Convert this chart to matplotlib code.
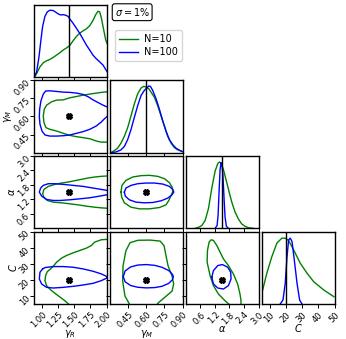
import matplotlib
matplotlib.use("Agg")
import matplotlib.pyplot as plt

# ---------------- data ----------------
param_labels = [r"$\gamma_R$", r"$\gamma_M$", r"$\alpha$", r"$C$"]
truths = [1.42, 0.60, 1.50, 20.0]
limits = [(0.88, 2.0), (0.3, 0.9), (0.0, 3.0), (5.0, 50.0)]
tick_values = [[1.00, 1.25, 1.50, 1.75, 2.00], [0.45, 0.60, 0.75, 0.90],
               [0.6, 1.2, 1.8, 2.4, 3.0], [10, 20, 30, 40, 50]]
tick_labels = [["1.00", "1.25", "1.50", "1.75", "2.00"], ["0.45", "0.60", "0.75", "0.90"],
               ["0.6", "1.2", "1.8", "2.4", "3.0"], ["10", "20", "30", "40", "50"]]
series_names = ["N=10", "N=100"]
series_colors = ["green", "blue"]
sigma_label = r"$\sigma = 1\%$"

# 1D marginals (normalised heights)
gR_x_n10 = [0.890, 0.921, 0.972, 1.023, 1.074, 1.125, 1.177, 1.228, 1.279, 1.330, 1.381, 1.432, 1.483,
            1.535, 1.586, 1.637, 1.688, 1.739, 1.790, 1.831, 1.867, 1.893, 1.918, 1.954, 1.985, 2.005]
gR_h_n10 = [0.0, 0.047, 0.140, 0.195, 0.223, 0.242, 0.270, 0.302, 0.335, 0.372, 0.400, 0.435, 0.500,
            0.560, 0.605, 0.637, 0.665, 0.707, 0.781, 0.860, 0.907, 0.898, 0.814, 0.651, 0.512, 0.465]
gR_x_n100 = [0.890, 0.921, 0.957, 0.987, 1.013, 1.049, 1.085, 1.125, 1.177, 1.217, 1.253, 1.289, 1.330,
             1.371, 1.407, 1.432, 1.483, 1.535, 1.586, 1.637, 1.688, 1.739, 1.790, 1.841, 1.892, 1.944, 2.005]
gR_h_n100 = [0.009, 0.070, 0.279, 0.512, 0.698, 0.837, 0.898, 0.921, 0.916, 0.893, 0.870, 0.856, 0.860,
             0.851, 0.835, 0.800, 0.740, 0.670, 0.600, 0.520, 0.440, 0.370, 0.300, 0.250, 0.209, 0.163, 0.074]

gM_x_n10 = [0.308, 0.336, 0.363, 0.391, 0.419, 0.446, 0.474, 0.501, 0.529, 0.557, 0.579, 0.598, 0.620,
            0.639, 0.667, 0.694, 0.722, 0.750, 0.777, 0.805, 0.832, 0.860, 0.907]
gM_h_n10 = [0.0, 0.028, 0.061, 0.131, 0.225, 0.343, 0.507, 0.671, 0.812, 0.892, 0.915, 0.906, 0.883,
            0.836, 0.765, 0.648, 0.507, 0.366, 0.225, 0.131, 0.070, 0.038, 0.009]
gM_x_n100 = [0.308, 0.350, 0.391, 0.419, 0.446, 0.474, 0.501, 0.529, 0.557, 0.584, 0.604, 0.620, 0.634,
             0.653, 0.681, 0.708, 0.736, 0.763, 0.791, 0.819, 0.846, 0.879, 0.907]
gM_h_n100 = [0.0, 0.009, 0.038, 0.085, 0.178, 0.319, 0.484, 0.648, 0.789, 0.859, 0.892, 0.920, 0.915,
             0.859, 0.742, 0.601, 0.437, 0.296, 0.178, 0.108, 0.061, 0.028, 0.009]

al_x_n10 = [0.384, 0.521, 0.658, 0.795, 0.932, 1.069, 1.206, 1.316, 1.384, 1.453, 1.549, 1.658, 1.781,
            1.891, 2.028, 2.165, 2.302, 2.439, 2.576, 2.781]
al_h_n10 = [0.0, 0.014, 0.038, 0.108, 0.272, 0.554, 0.789, 0.892, 0.915, 0.901, 0.812, 0.671, 0.507,
            0.366, 0.225, 0.131, 0.061, 0.028, 0.009, 0.0]
al_x_n100 = [1.206, 1.288, 1.329, 1.370, 1.412, 1.453, 1.494, 1.535, 1.576, 1.617, 1.672, 1.754]
al_h_n100 = [0.0, 0.038, 0.178, 0.507, 0.812, 0.906, 0.883, 0.695, 0.413, 0.155, 0.028, 0.0]

C_x_n10 = [5.0, 8.1, 11.2, 14.3, 17.4, 19.5, 21.6, 24.7, 28.8, 33.0, 37.1, 43.3, 49.6]
C_h_n10 = [0.148, 0.425, 0.654, 0.840, 0.909, 0.909, 0.876, 0.747, 0.563, 0.425, 0.308, 0.194, 0.101]
C_x_n100 = [16.4, 18.1, 19.5, 20.6, 21.6, 22.6, 23.7, 25.1, 26.8, 28.4, 29.9]
C_h_n100 = [0.0, 0.055, 0.286, 0.654, 0.885, 0.909, 0.862, 0.609, 0.286, 0.055, 0.0]

# 2D credible contours
gRgM_x_n10 = [2.005, 1.918, 1.841, 1.739, 1.637, 1.535, 1.432, 1.330, 1.228, 1.151, 1.074, 1.038, 1.023,
              1.033, 1.064, 1.125, 1.228, 1.330, 1.432, 1.535, 1.637, 1.739, 1.841, 1.918, 2.005]
gRgM_y_n10 = [0.804, 0.799, 0.793, 0.785, 0.776, 0.765, 0.754, 0.737, 0.735, 0.721, 0.693, 0.660, 0.604,
              0.549, 0.507, 0.493, 0.479, 0.460, 0.443, 0.432, 0.424, 0.415, 0.396, 0.387, 0.387]
gRgM_x_n100 = [2.005, 1.944, 1.867, 1.790, 1.714, 1.637, 1.535, 1.432, 1.330, 1.228, 1.125, 1.059, 1.023,
               0.987, 0.967, 0.962, 0.972, 1.003, 1.049, 1.125, 1.228, 1.330, 1.432, 1.535, 1.637, 1.739,
               1.841, 1.918, 1.969, 2.005]
gRgM_y_n100 = [0.679, 0.693, 0.715, 0.737, 0.763, 0.782, 0.793, 0.799, 0.801, 0.807, 0.812, 0.810, 0.785,
               0.729, 0.660, 0.599, 0.535, 0.479, 0.446, 0.437, 0.437, 0.440, 0.446, 0.460, 0.474, 0.493,
               0.521, 0.554, 0.582, 0.599]

gRal_x_n10 = [2.005, 1.918, 1.816, 1.714, 1.611, 1.509, 1.407, 1.304, 1.202, 1.100, 1.033, 1.013, 1.033,
              1.085, 1.177, 1.304, 1.432, 1.560, 1.688, 1.816, 1.918, 2.005]
gRal_y_n10 = [2.167, 2.153, 2.125, 2.083, 2.028, 1.972, 1.917, 1.875, 1.819, 1.736, 1.611, 1.431, 1.292,
              1.153, 1.083, 1.056, 1.014, 0.972, 0.917, 0.875, 0.847, 0.833]
gRal_x_n100 = [2.005, 1.918, 1.790, 1.637, 1.483, 1.330, 1.202, 1.100, 1.023, 0.982, 0.962, 0.998, 1.074,
               1.177, 1.279, 1.432, 1.586, 1.739, 1.892, 2.005]
gRal_y_n100 = [1.570, 1.611, 1.667, 1.736, 1.778, 1.820, 1.847, 1.847, 1.778, 1.667, 1.500, 1.333, 1.194,
               1.153, 1.153, 1.181, 1.222, 1.264, 1.333, 1.389]

gRC_x_n10 = [2.005, 1.918, 1.816, 1.765, 1.688, 1.586, 1.483, 1.381, 1.304, 1.228, 1.177, 1.136, 1.085,
             1.059, 1.049, 1.074, 1.151, 1.253, 1.356, 1.432]
gRC_y_n10 = [45.13, 44.93, 43.47, 41.38, 39.72, 38.26, 36.80, 35.13, 33.47, 30.97, 28.47, 26.80, 25.13,
             22.63, 19.51, 16.38, 13.26, 10.13, 7.01, 4.30]
gRC_x_n100 = [1.013, 1.049, 1.177, 1.330, 1.483, 1.637, 1.790, 1.918, 1.995, 2.005, 1.995, 1.918, 1.790,
              1.637, 1.483, 1.330, 1.177, 1.074, 0.998, 0.962, 0.972, 1.013]
gRC_y_n100 = [26.80, 27.63, 28.26, 28.26, 27.84, 26.80, 25.34, 23.68, 22.22, 21.59, 20.97, 19.51, 17.84,
              16.80, 15.97, 15.34, 14.93, 15.34, 17.43, 20.55, 24.72, 26.80]

gMal_x_n10 = [0.391, 0.399, 0.432, 0.488, 0.557, 0.626, 0.694, 0.750, 0.791, 0.813, 0.819, 0.805, 0.786,
              0.763, 0.708, 0.626, 0.543, 0.474, 0.419, 0.397, 0.391]
gMal_y_n10 = [1.500, 1.778, 1.986, 2.125, 2.181, 2.194, 2.153, 2.056, 1.889, 1.708, 1.528, 1.361, 1.153,
              0.972, 0.861, 0.806, 0.806, 0.875, 1.056, 1.292, 1.500]
gMal_x_n100 = [0.419, 0.432, 0.474, 0.529, 0.598, 0.667, 0.736, 0.791, 0.819, 0.827, 0.813, 0.777, 0.722,
               0.653, 0.584, 0.515, 0.460, 0.427, 0.419]
gMal_y_n100 = [1.500, 1.667, 1.778, 1.847, 1.875, 1.875, 1.833, 1.736, 1.611, 1.500, 1.389, 1.250, 1.139,
               1.069, 1.056, 1.083, 1.181, 1.333, 1.500]

gMC_x_n10 = [0.466, 0.424, 0.405, 0.408, 0.432, 0.466, 0.532, 0.631, 0.714, 0.747, 0.763, 0.780, 0.813,
             0.826, 0.813, 0.755, 0.697, 0.686]
gMC_y_n10 = [4.3, 9.9, 19.3, 28.7, 38.1, 43.1, 44.6, 44.7, 44.1, 41.2, 34.9, 28.7, 22.4, 17.4, 13.0,
             9.3, 5.6, 4.3]
gMC_x_n100 = [0.410, 0.425, 0.470, 0.530, 0.600, 0.670, 0.730, 0.785, 0.815, 0.824, 0.815, 0.785, 0.730,
              0.670, 0.600, 0.530, 0.470, 0.425, 0.410]
gMC_y_n100 = [22.0, 25.5, 28.0, 29.2, 29.5, 29.0, 27.8, 25.8, 23.5, 22.0, 20.0, 17.8, 16.0, 15.2, 15.0,
              15.4, 16.5, 18.8, 22.0]

alC_x_n10 = [1.823, 1.617, 1.343, 1.138, 1.000, 0.877, 0.891, 0.959, 1.042, 1.138, 1.275, 1.412, 1.549,
             1.754, 1.960, 2.138, 2.234, 2.275, 2.275]
alC_y_n10 = [4.3, 7.0, 11.2, 16.4, 22.6, 31.0, 38.3, 43.5, 44.9, 44.5, 41.4, 37.2, 33.05, 28.9, 23.7,
             17.4, 11.2, 7.0, 4.3]
alC_x_n100 = [1.069, 1.138, 1.316, 1.507, 1.727, 1.850, 1.864, 1.754, 1.549, 1.316, 1.138, 1.069]
alC_y_n100 = [21.6, 25.76, 28.88, 29.5, 27.84, 24.72, 20.55, 16.38, 14.3, 14.93, 17.43, 21.6]

diag_data = {
    0: [(gR_x_n10, gR_h_n10), (gR_x_n100, gR_h_n100)],
    1: [(gM_x_n10, gM_h_n10), (gM_x_n100, gM_h_n100)],
    2: [(al_x_n10, al_h_n10), (al_x_n100, al_h_n100)],
    3: [(C_x_n10, C_h_n10), (C_x_n100, C_h_n100)],
}
pair_data = {
    (1, 0): [(gRgM_x_n10, gRgM_y_n10), (gRgM_x_n100, gRgM_y_n100)],
    (2, 0): [(gRal_x_n10, gRal_y_n10), (gRal_x_n100, gRal_y_n100)],
    (3, 0): [(gRC_x_n10, gRC_y_n10), (gRC_x_n100, gRC_y_n100)],
    (2, 1): [(gMal_x_n10, gMal_y_n10), (gMal_x_n100, gMal_y_n100)],
    (3, 1): [(gMC_x_n10, gMC_y_n10), (gMC_x_n100, gMC_y_n100)],
    (3, 2): [(alC_x_n10, alC_y_n10), (alC_x_n100, alC_y_n100)],
}

# ---------------- plot ----------------
n = len(param_labels)
fig, axes = plt.subplots(n, n, figsize=(3.46, 3.39), dpi=100)
fig.subplots_adjust(left=34 / 346, right=334.5 / 346, top=1 - 4.5 / 339, bottom=1 - 304 / 339,
                    wspace=0.045, hspace=0.045)

tick_fs = 6.0
lab_fs = 7.0
handles = []
for i in range(n):
    for j in range(n):
        ax = axes[i, j]
        if j > i:
            ax.set_visible(False)
            continue
        ax.set_xlim(*limits[j])
        ax.set_xticks(tick_values[j])
        if i == n - 1:
            ax.set_xticklabels(tick_labels[j], rotation=45, fontsize=tick_fs,
                               ha="right", rotation_mode="anchor")
            ax.set_xlabel(param_labels[j], fontsize=lab_fs, labelpad=-1.5)
        else:
            ax.set_xticklabels([])
        if i == j:
            for (xs, hs), col, name in zip(diag_data[i], series_colors, series_names):
                ln, = ax.plot(xs, hs, color=col, lw=1.0, label=name)
                if i == 0:
                    handles.append(ln)
            ax.axvline(truths[i], color="black", lw=1.0)
            ax.set_ylim(0, 1.0)
            ax.set_yticks([])
        else:
            for (xs, ys), col in zip(pair_data[(i, j)], series_colors):
                ax.plot(xs, ys, color=col, lw=1.0)
            ax.plot([truths[j]], [truths[i]], marker="X", color="black", ms=4.2, ls="none")
            ax.set_ylim(*limits[i])
            ax.set_yticks(tick_values[i])
            if j == 0:
                ax.set_yticklabels(tick_labels[i], rotation=45, fontsize=tick_fs,
                                   ha="right", rotation_mode="anchor")
                ax.set_ylabel(param_labels[i], fontsize=lab_fs, labelpad=-1)
            else:
                ax.set_yticklabels([])
        ax.tick_params(length=3, width=0.7, pad=1.5)
        for sp in ax.spines.values():
            sp.set_linewidth(1.0)

fig.legend(handles=handles, labels=series_names, loc="upper left",
           bbox_to_anchor=(0.318, 0.925), fontsize=7, frameon=True,
           borderpad=0.4, labelspacing=0.3, handlelength=2.0, handletextpad=0.6)
fig.text(0.382, 0.964, sigma_label, ha="center", va="center", fontsize=7,
         bbox=dict(boxstyle="round,pad=0.25", fc="white", ec="black", lw=0.8))

fig.savefig("out.png", dpi=100)
